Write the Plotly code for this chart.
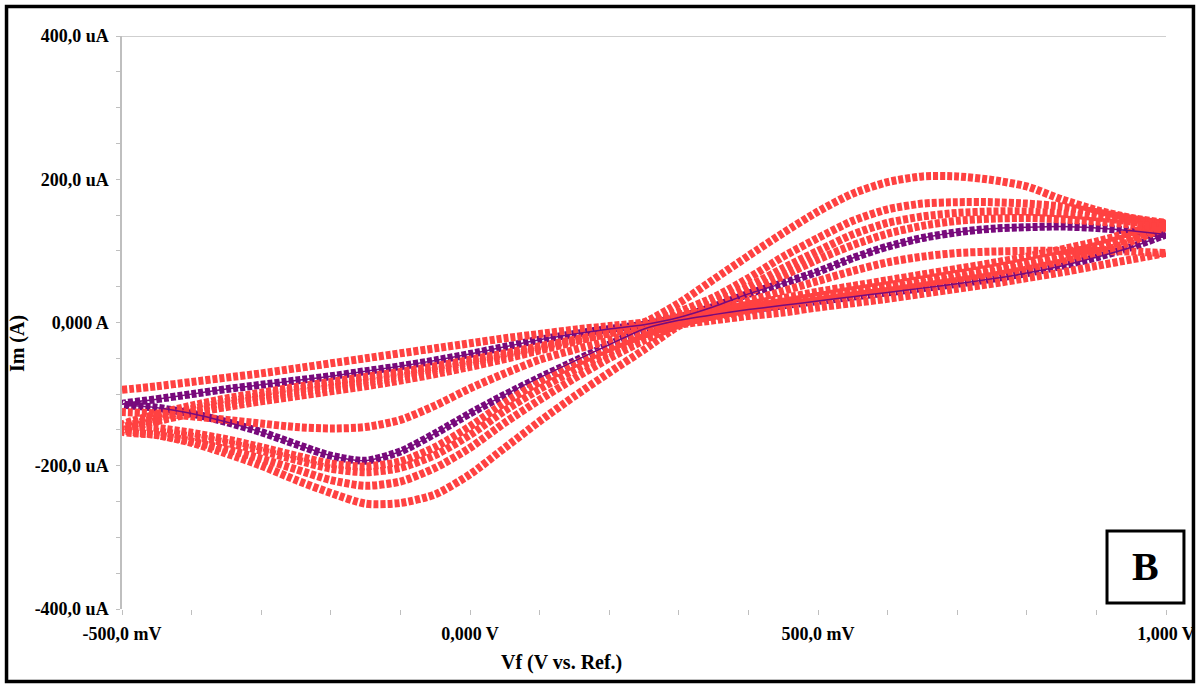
import plotly.graph_objects as go

# ---------------- data (voltage in V, current in uA) ----------------
VOLT_FWD = [-0.5, -0.45, -0.4, -0.35, -0.3, -0.25, -0.2, -0.15, -0.1, -0.05, 0.0,
            0.05, 0.1, 0.15, 0.2, 0.25, 0.3, 0.35, 0.4, 0.45, 0.5,
            0.55, 0.6, 0.65, 0.7, 0.75, 0.8, 0.85, 0.9, 0.95, 1.0]
VOLT_REV = [1.0, 0.95, 0.9, 0.85, 0.8, 0.75, 0.7, 0.65, 0.6, 0.55, 0.5,
            0.45, 0.4, 0.35, 0.3, 0.25, 0.2, 0.15, 0.1, 0.05, 0.0,
            -0.05, -0.1, -0.15, -0.2, -0.25, -0.3, -0.35, -0.4, -0.45, -0.5]

# red cycles: forward (anodic) sweep and reverse (cathodic) sweep
RED1_FWD = [-150, -138, -127, -118, -110, -103, -96, -89, -81, -72, -62, -51, -39, -27, -14, 0,
            27, 60, 93, 125, 155, 180, 196, 204, 204, 199, 190, 172, 157, 146, 139]
RED1_REV = [139, 126, 113, 102, 92, 83, 75, 67, 59, 51, 43, 34, 25, 14, -5,
            -38, -70, -103, -138, -175, -212, -240, -252, -253, -238, -220, -200, -183, -168, -157, -150]

RED2_FWD = [-152, -137, -125, -115, -106, -98, -91, -84, -76, -67, -58, -48, -37, -26, -15, -3,
            15, 35, 62, 92, 118, 142, 158, 166, 168, 168, 166, 162, 154, 145, 137]
RED2_REV = [137, 121, 107, 95, 85, 76, 68, 60, 52, 45, 37, 29, 21, 11, -3,
            -25, -50, -78, -108, -140, -175, -203, -222, -228, -220, -205, -190, -177, -166, -157, -152]

RED3_FWD = [-148, -133, -121, -111, -102, -94, -87, -80, -72, -64, -55, -45, -35, -25, -15, -5,
            10, 27, 50, 76, 100, 123, 139, 148, 153, 155, 155, 152, 147, 141, 135]
RED3_REV = [135, 117, 102, 89, 79, 70, 62, 55, 48, 41, 34, 26, 18, 9, -2,
            -20, -42, -66, -93, -123, -157, -185, -203, -209, -204, -192, -179, -168, -159, -152, -148]

RED4_FWD = [-143, -128, -116, -106, -98, -90, -83, -76, -69, -61, -52, -43, -33, -24, -14, -5,
            7, 22, 42, 65, 88, 108, 124, 135, 142, 145, 146, 144, 141, 137, 133]
RED4_REV = [133, 113, 97, 84, 74, 65, 58, 51, 44, 38, 31, 24, 16, 8, -1,
            -17, -36, -58, -83, -112, -145, -174, -194, -201, -197, -186, -174, -163, -154, -147, -143]

RED5_FWD = [-94, -89, -83, -77, -71, -64, -57, -50, -43, -36, -29, -22, -16, -10, -5, 0,
            8, 18, 30, 44, 58, 72, 84, 92, 97, 99, 100, 100, 100, 99, 97]
RED5_REV = [97, 88, 79, 70, 62, 54, 47, 40, 33, 27, 21, 14, 9, 3, -3,
            -12, -25, -38, -52, -71, -92, -116, -136, -146, -148, -146, -141, -136, -131, -127, -125]

# purple cycle
PURPLE_FWD = [-114, -107, -100, -93, -87, -81, -75, -68, -61, -53, -44, -34, -24, -16, -9, -3,
              7, 22, 40, 55, 71, 90, 106, 118, 126, 131, 133, 134, 132, 128, 123]
PURPLE_REV = [123, 105, 91, 79, 69, 61, 54, 48, 42, 36, 30, 24, 18, 11, 3,
              -9, -31, -54, -77, -101, -127, -155, -180, -193, -186, -170, -153, -139, -127, -119, -114]

X_TICKS = [-0.5, 0.0, 0.5, 1.0]
X_TICK_TEXT = ["-500,0 mV", "0,000 V", "500,0 mV", "1,000 V"]
Y_TICKS = [-400, -200, 0, 200, 400]
Y_TICK_TEXT = ["-400,0 uA", "-200,0 uA", "0,000 A", "200,0 uA", "400,0 uA"]

RED = "#FF4141"
PURPLE = "#780A7C"
AXIS_GREY = "#BFBFBF"
FONT = "Liberation Serif"

fig = go.Figure()

def bead_trace(fwd, rev, color):
    return go.Scatter(
        x=VOLT_FWD + VOLT_REV, y=fwd + rev, mode="lines",
        line=dict(color=color, width=8, dash="5px,2px", shape="spline", smoothing=0.7),
        hoverinfo="skip", showlegend=False)

fig.add_trace(bead_trace(PURPLE_FWD, PURPLE_REV, PURPLE))
for f, r in [(RED1_FWD, RED1_REV), (RED2_FWD, RED2_REV), (RED3_FWD, RED3_REV),
             (RED4_FWD, RED4_REV), (RED5_FWD, RED5_REV)]:
    fig.add_trace(bead_trace(f, r, RED))
# thin purple connecting line showing through
fig.add_trace(go.Scatter(
    x=VOLT_FWD + VOLT_REV, y=PURPLE_FWD + PURPLE_REV, mode="lines",
    line=dict(color=PURPLE, width=1.5, shape="spline", smoothing=0.7),
    hoverinfo="skip", showlegend=False))

tick_font = dict(family=FONT, size=18, color="black", weight="bold")

fig.update_xaxes(
    range=[X_TICKS[0], X_TICKS[-1]], tickvals=X_TICKS, ticktext=X_TICK_TEXT,
    showline=False, showgrid=False, zeroline=False, automargin=False,
    ticks="outside", ticklen=5, tickcolor=AXIS_GREY, tickwidth=1,
    minor=dict(dtick=0.1, ticks="outside", ticklen=5, tickcolor=AXIS_GREY, tickwidth=1),
    tickfont=tick_font, ticklabelstandoff=3)
fig.update_yaxes(
    range=[Y_TICKS[0], Y_TICKS[-1]], tickvals=Y_TICKS, ticktext=Y_TICK_TEXT,
    showline=True, linecolor=AXIS_GREY, linewidth=1.5, showgrid=False, zeroline=False,
    automargin=False,
    ticks="outside", ticklen=4, tickcolor=AXIS_GREY, tickwidth=1,
    minor=dict(dtick=50, ticks="outside", ticklen=4, tickcolor=AXIS_GREY, tickwidth=1),
    tickfont=tick_font, ticklabelstandoff=4)

shapes = [
    # top gridline at max current
    dict(type="line", xref="paper", x0=0, x1=1, yref="y", y0=Y_TICKS[-1], y1=Y_TICKS[-1],
         line=dict(color=AXIS_GREY, width=1.5), layer="below"),
    # outer frame
    dict(type="rect", xref="paper", yref="paper", x0=-0.1106, x1=1.0263, y0=-0.1265, y1=1.0515,
         line=dict(color="black", width=3.5)),
    # panel label box
    dict(type="rect", xref="paper", yref="paper", x0=0.9435, x1=1.0172, y0=0.0105, y1=0.1361,
         line=dict(color="black", width=3), fillcolor="white"),
]

annotations = [
    dict(text="Vf (V vs. Ref.)", xref="paper", yref="paper", x=0.421, y=-0.094,
         showarrow=False, font=dict(family=FONT, size=20, color="black", weight="bold"),
         xanchor="center", yanchor="middle"),
    dict(text="Im (A)", xref="paper", yref="paper", x=-0.1006, y=0.464, textangle=-90,
         showarrow=False, font=dict(family=FONT, size=20, color="black", weight="bold"),
         xanchor="center", yanchor="middle"),
    dict(text="B", xref="paper", yref="paper", x=0.9803, y=0.0733,
         showarrow=False, font=dict(family=FONT, size=40, color="black", weight="bold"),
         xanchor="center", yanchor="middle"),
]

fig.update_layout(
    width=1198, height=684, autosize=False,
    margin=dict(l=122, r=32, t=36, b=75, pad=0),
    paper_bgcolor="white", plot_bgcolor="white",
    shapes=shapes, annotations=annotations, showlegend=False)

fig.write_html("out.html")
